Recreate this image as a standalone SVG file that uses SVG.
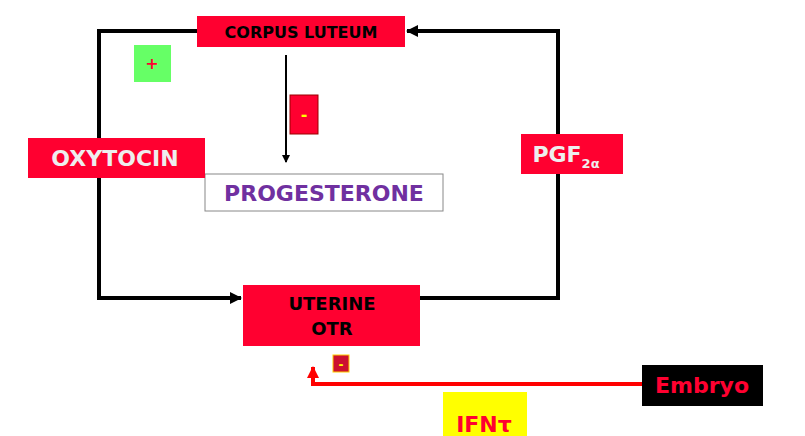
<svg xmlns="http://www.w3.org/2000/svg" width="805" height="436" viewBox="0 0 805 436">
<defs>
<style>
.t{font-family:"DejaVu Sans",sans-serif;font-weight:bold;text-anchor:middle}
.red{fill:#ff0030}
</style>
<marker id="ab" markerWidth="8" markerHeight="8" refX="7" refY="4" orient="auto" markerUnits="userSpaceOnUse"><path d="M0,0L8,4L0,8z" fill="#000"/></marker>
<marker id="abL" markerWidth="12" markerHeight="12" refX="11" refY="6" orient="auto" markerUnits="userSpaceOnUse"><path d="M0,0L12,6L0,12z" fill="#000"/></marker>
<marker id="ar" markerWidth="12" markerHeight="12" refX="11" refY="6" orient="auto" markerUnits="userSpaceOnUse"><path d="M0,0L12,6L0,12z" fill="#ff0000"/></marker>
</defs>
<rect width="805" height="436" fill="#fff"/>
<g id="connectors" fill="none">
<path d="M197,31H99V298H241" stroke="#000" stroke-width="4" marker-end="url(#abL)"/>
<path d="M420,298H558V31H407" stroke="#000" stroke-width="4" marker-end="url(#abL)"/>
<path d="M286,55V162" stroke="#000" stroke-width="2" marker-end="url(#ab)"/>
<path d="M642,384H313V367" stroke="#ff0000" stroke-width="4" marker-end="url(#ar)"/>
</g>
<g id="corpus"><rect x="197" y="16" width="208" height="31" class="red"/><text x="301" y="38" class="t" font-size="16" fill="#000">CORPUS LUTEUM</text></g>
<g id="plus"><rect x="134" y="45" width="37" height="37" fill="#66ff66"/><text x="152" y="69" class="t" font-size="16" fill="#ff0030">+</text></g>
<g id="minus1"><rect x="290" y="95" width="28" height="39" class="red" stroke="#900" stroke-width="1"/><text x="304" y="120" class="t" font-size="16" fill="#ffff00">-</text></g>
<g id="progesterone"><rect x="205" y="174" width="238" height="37" fill="#fff" stroke="#888" stroke-width="1"/><text x="324" y="201" class="t" font-size="22" fill="#7030a0">PROGESTERONE</text></g>
<g id="oxytocin"><rect x="28" y="138" width="177" height="40" class="red"/><text x="115" y="166" class="t" font-size="22" fill="#eee">OXYTOCIN</text></g>
<g id="pgf"><rect x="521" y="134" width="102" height="40" class="red"/><text x="566" y="162" class="t" font-size="22" fill="#eee">PGF<tspan font-size="13" dy="6">2α</tspan></text></g>
<g id="uterine"><rect x="243" y="285" width="177" height="61" class="red"/><text x="332" y="310" class="t" font-size="18" fill="#000">UTERINE</text><text x="332" y="335" class="t" font-size="18" fill="#000">OTR</text></g>
<g id="minus2"><rect x="333" y="355" width="16" height="17" fill="#cc1030" stroke="#ffcc00" stroke-width="1"/><text x="341" y="369" class="t" font-size="12" fill="#ffff00">-</text></g>
<g id="embryo"><rect x="642" y="365" width="121" height="41" fill="#000"/><text x="702" y="393" class="t" font-size="22" fill="#ff0030">Embryo</text></g>
<g id="ifn"><rect x="443" y="392" width="84" height="44" fill="#ffff00"/><text x="484" y="432" class="t" font-size="22" fill="#ff0030">IFNτ</text></g>
</svg>
